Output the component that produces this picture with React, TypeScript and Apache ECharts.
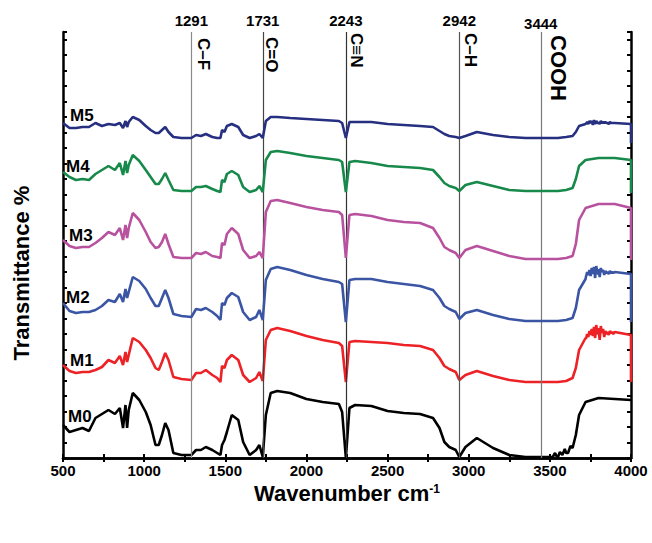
import { useEffect, useRef } from "react";
import * as echarts from "echarts";

// Wavenumber grid (cm-1) shared by the main traces
const wavenumbers = [
  500, 540, 580, 620, 660, 700, 740, 780, 820, 850,
  870, 885, 895, 905, 930, 970, 1010, 1040, 1070, 1090,
  1110, 1130, 1150, 1180, 1230, 1291, 1320, 1350, 1380, 1420,
  1450, 1470, 1480, 1495, 1510, 1540, 1580, 1610, 1650, 1690,
  1710, 1731, 1750, 1780, 1820, 1900, 2000, 2100, 2200, 2220,
  2243, 2265, 2300, 2400, 2500, 2600, 2700, 2780, 2820, 2850,
  2880, 2920, 2942, 2980, 3050, 3150, 3250, 3350, 3444, 3550,
  3600, 3640, 3660, 3680, 3720, 3800, 3900, 4000,
];

// Stacked transmittance traces (arbitrary offset units)
const m0 = [
  33, 26, 28, 30, 27, 40, 44, 48, 44, 50,
  30, 53, 30, 48, 65, 58, 46, 33, 13, 13,
  23, 35, 28, 5, 3, 3, 8, 8, 11, 8,
  5, 3, 13, 18, 26, 43, 38, 16, 3, 8,
  13, 1, 43, 65, 67, 65, 59, 56, 54, 46,
  0, 50, 53, 52, 47, 45, 44, 40, 30, 16,
  11, 8, 1, 11, 20, 10, 3, 1, 1, 1,
  5, 10, 23, 43, 56, 60, 59, 58,
];
const m1 = [
  93, 87, 85, 86, 86, 88, 91, 98, 95, 102,
  93, 106, 96, 103, 120, 116, 108, 100, 90, 88,
  96, 105, 98, 81, 79, 78, 85, 85, 88, 83,
  80, 76, 92, 90, 98, 103, 98, 83, 76, 80,
  86, 77, 118, 128, 130, 127, 122, 118, 115, 112,
  76, 116, 117, 116, 115, 113, 112, 108, 100, 92,
  89, 86, 78, 83, 87, 82, 78, 76, 76, 76,
  77, 80, 90, 108, 120, 125, 126, 123,
];
const m2 = [
  155, 147, 145, 146, 146, 148, 152, 158, 156, 164,
  156, 169, 160, 166, 181, 177, 169, 160, 152, 152,
  160, 168, 160, 144, 142, 141, 149, 148, 150, 146,
  142, 138, 155, 153, 160, 165, 161, 146, 138, 141,
  148, 138, 178, 189, 191, 188, 183, 179, 176, 174,
  136, 178, 179, 179, 176, 174, 172, 168, 160, 152,
  149, 146, 139, 145, 148, 143, 139, 137, 137, 137,
  138, 140, 150, 168, 179, 184, 186, 184,
];
const m3 = [
  218, 212, 210, 211, 211, 215, 220, 226, 223, 230,
  218, 233, 220, 230, 245, 238, 226, 216, 210, 211,
  216, 224, 214, 201, 200, 200, 205, 204, 206, 202,
  201, 200, 215, 213, 224, 230, 224, 208, 200, 202,
  206, 200, 246, 257, 258, 255, 251, 248, 246, 243,
  200, 243, 244, 242, 238, 236, 235, 230, 220, 211,
  208, 205, 200, 208, 212, 207, 202, 199, 199, 199,
  200, 202, 214, 238, 250, 254, 254, 250,
];
const m4 = [
  286, 281, 278, 279, 278, 284, 288, 292, 288, 295,
  283, 297, 285, 293, 303, 297, 288, 281, 274, 274,
  279, 285, 278, 268, 267, 267, 271, 271, 272, 269,
  267, 266, 278, 276, 284, 287, 283, 271, 266, 268,
  272, 266, 298, 306, 307, 305, 302, 300, 298, 296,
  266, 296, 297, 295, 292, 291, 290, 288, 281, 275,
  272, 270, 267, 273, 276, 272, 268, 267, 267, 267,
  268, 270, 279, 292, 298, 300, 300, 298,
];
const m5 = [
  335, 330, 330, 331, 331, 335, 332, 334, 333, 335,
  330, 337, 331, 336, 341, 338, 332, 328, 325, 325,
  328, 331, 326, 321, 320, 320, 323, 322, 324, 321,
  320, 320, 328, 326, 332, 334, 331, 323, 320, 322,
  324, 320, 337, 341, 341, 340, 339, 338, 337, 335,
  320, 336, 336, 336, 334, 333, 332, 331, 327, 324,
  322, 321, 320, 322, 326, 323, 321, 320, 320, 320,
  321, 322, 326, 332, 334, 335, 335, 334,
];

// Noisy O-H plateau (3722-3891 cm-1)
const plateauWn = [
  3722, 3730, 3737, 3744, 3751, 3758, 3765, 3772, 3779, 3786, 3793, 3800, 3807,
  3814, 3821, 3828, 3835, 3842, 3849, 3856, 3863, 3870, 3877, 3884, 3891,
];
const m1Plateau = [
  119, 124, 121, 127, 123, 129, 122, 131, 120, 133, 124, 130, 118,
  132, 125, 129, 121, 127, 124, 126, 123, 127, 125, 126, 124,
];
const m2Plateau = [
  181, 186, 183, 188, 182, 190, 184, 191, 180, 192, 185, 189, 181,
  190, 186, 188, 183, 187, 185, 186, 184, 187, 185, 186, 185,
];
const m5Plateau = [
  334, 336, 334, 337, 335, 337, 333, 338, 334, 337, 335, 336, 334,
  337, 335, 336, 335, 336, 335, 335, 334, 336, 335, 335, 335,
];

// Noisy baseline of M0 before the O-H rise
const baseWn = [3518, 3532, 3544, 3562, 3577, 3592, 3612, 3627];
const m0Base = [1, 5, 1, 6, 3, 9, 5, 12];

// Last recorded point of each trace at 4000 cm-1
const tailValues = [58, 76, 136, 198, 265, 315];

const sampleNames = ["M0", "M1", "M2", "M3", "M4", "M5"];
const sampleColors = ["#000000", "#EC2227", "#3B55A5", "#B8519E", "#17894A", "#262F80"];

// Characteristic bands
const bandPositions = [1291, 1731, 2243, 2942, 3444];
const bandGroups = ["C–F", "C=O", "C≡N", "C–H", "COOH"];
const bandLineColors = ["#8a8a8a", "#444444", "#333333", "#555555", "#7a7a7a"];

const FONT = '"Liberation Sans", Arial, Helvetica, sans-serif';

function buildTrace(values: number[], tail: number, extraWn?: number[], extraVals?: number[]) {
  const pts: number[][] = wavenumbers.map((w, i) => [w, values[i]]);
  if (extraWn && extraVals) {
    extraWn.forEach((w, i) => pts.push([w, extraVals[i]]));
  }
  pts.sort((a, b) => a[0] - b[0]);
  pts.push([4000, tail]);
  return pts;
}

export default function App() {
  const ref = useRef<HTMLDivElement>(null);

  useEffect(() => {
    if (!ref.current) return;
    const chart = echarts.init(ref.current, undefined, { renderer: "svg" });

    const traces = [
      buildTrace(m0, tailValues[0], baseWn, m0Base),
      buildTrace(m1, tailValues[1], plateauWn, m1Plateau),
      buildTrace(m2, tailValues[2], plateauWn, m2Plateau),
      buildTrace(m3, tailValues[3]),
      buildTrace(m4, tailValues[4]),
      buildTrace(m5, tailValues[5], plateauWn, m5Plateau),
    ];

    const axisLine = { show: true, lineStyle: { color: "#000", width: 2.5 } };
    const axisTick = { show: true, inside: true, length: 4, lineStyle: { color: "#000", width: 2 } };

    const series: any[] = traces.map((data, i) => ({
      type: "line",
      name: sampleNames[i],
      data,
      showSymbol: false,
      symbol: "none",
      lineStyle: { color: sampleColors[i], width: 2.6 },
      itemStyle: { color: sampleColors[i] },
      z: 3 + i,
    }));

    series.push({
      type: "line",
      name: "bands",
      data: [],
      silent: true,
      z: 2,
      markLine: {
        silent: true,
        symbol: "none",
        animation: false,
        data: bandPositions.map((x, i) => ({
          name: String(x),
          xAxis: x,
          lineStyle: { color: bandLineColors[i], width: 1.2, type: "solid" },
          label: {
            show: true,
            position: "end",
            formatter: "{b}",
            distance: i === 4 ? 1 : 4,
            color: "#000",
            fontWeight: "bold",
            fontSize: 15,
            fontFamily: FONT,
          },
        })),
      },
    });

    chart.setOption({
      animation: false,
      grid: { left: 63, right: 21, top: 32, bottom: 85 },
      xAxis: [
        {
          type: "value",
          position: "bottom",
          min: 500,
          max: 4000,
          interval: 250,
          axisLine,
          axisTick,
          splitLine: { show: false },
          axisLabel: {
            formatter: (v: number) => (v % 500 === 0 ? String(v) : ""),
            color: "#000",
            fontWeight: "bold",
            fontSize: 15,
            fontFamily: FONT,
            margin: 5,
          },
          name: "Wavenumber cm{sup|-1}",
          nameLocation: "middle",
          nameGap: 21,
          nameTextStyle: {
            color: "#000",
            fontWeight: "bold",
            fontSize: 22,
            fontFamily: FONT,
            rich: {
              sup: { fontSize: 12, fontWeight: "bold", fontFamily: FONT, color: "#000", verticalAlign: "top", padding: [0, 0, 10, 0] },
            },
          },
        },
        {
          type: "value",
          position: "top",
          min: 500,
          max: 4000,
          interval: 250,
          axisLine,
          axisTick,
          axisLabel: { show: false },
          splitLine: { show: false },
        },
      ],
      yAxis: [
        {
          type: "value",
          position: "left",
          min: 0,
          max: 426,
          interval: 15.5,
          axisLine,
          axisTick,
          axisLabel: { show: false },
          splitLine: { show: false },
        },
        {
          type: "value",
          position: "right",
          min: 0,
          max: 426,
          interval: 15.5,
          axisLine,
          axisTick,
          axisLabel: { show: false },
          splitLine: { show: false },
        },
      ],
      series,
    });

    // Rotated functional-group labels beside each band line
    const groupOffsets = [12, 9, 11, 11, 18];
    const groupTops = [38, 37, 33, 33, 35];
    const groupTexts = bandPositions.map((x, i) => {
      const px = chart.convertToPixel({ xAxisIndex: 0 }, x) as number;
      const big = i === 4;
      return {
        type: "text",
        x: px + groupOffsets[i],
        y: groupTops[i],
        rotation: -Math.PI / 2,
        silent: true,
        style: {
          text: bandGroups[i],
          fill: "#000",
          fontSize: big ? 22 : 17,
          fontWeight: "bold",
          fontFamily: FONT,
          align: "left",
          verticalAlign: "middle",
          textAlign: "left",
          textVerticalAlign: "middle",
        },
      };
    });

    // Sample names at the start of each trace
    const nameY = [416, 360, 297, 235, 166, 115];
    const nameX = [68, 70, 66, 69, 66, 70];
    const nameTexts = sampleNames.map((n, i) => ({
      type: "text",
      x: nameX[i],
      y: nameY[i],
      silent: true,
      style: {
        text: n,
        fill: "#000",
        fontSize: 17,
        fontWeight: "bold",
        fontFamily: FONT,
        align: "left",
        verticalAlign: "middle",
        textAlign: "left",
        textVerticalAlign: "middle",
      },
    }));

    chart.setOption({
      graphic: [
        ...groupTexts,
        ...nameTexts,
        {
          type: "text",
          x: 21,
          y: 273,
          rotation: Math.PI / 2,
          silent: true,
          style: {
            text: "Transmittance %",
            fill: "#000",
            fontSize: 22,
            fontWeight: "bold",
            fontFamily: FONT,
            align: "center",
            verticalAlign: "middle",
            textAlign: "center",
            textVerticalAlign: "middle",
          },
        },
      ],
    });

    return () => chart.dispose();
  }, []);

  return (
    <div
      ref={ref}
      style={{ position: "fixed", left: 0, top: 0, width: 652, height: 543, background: "#fff" }}
    />
  );
}
